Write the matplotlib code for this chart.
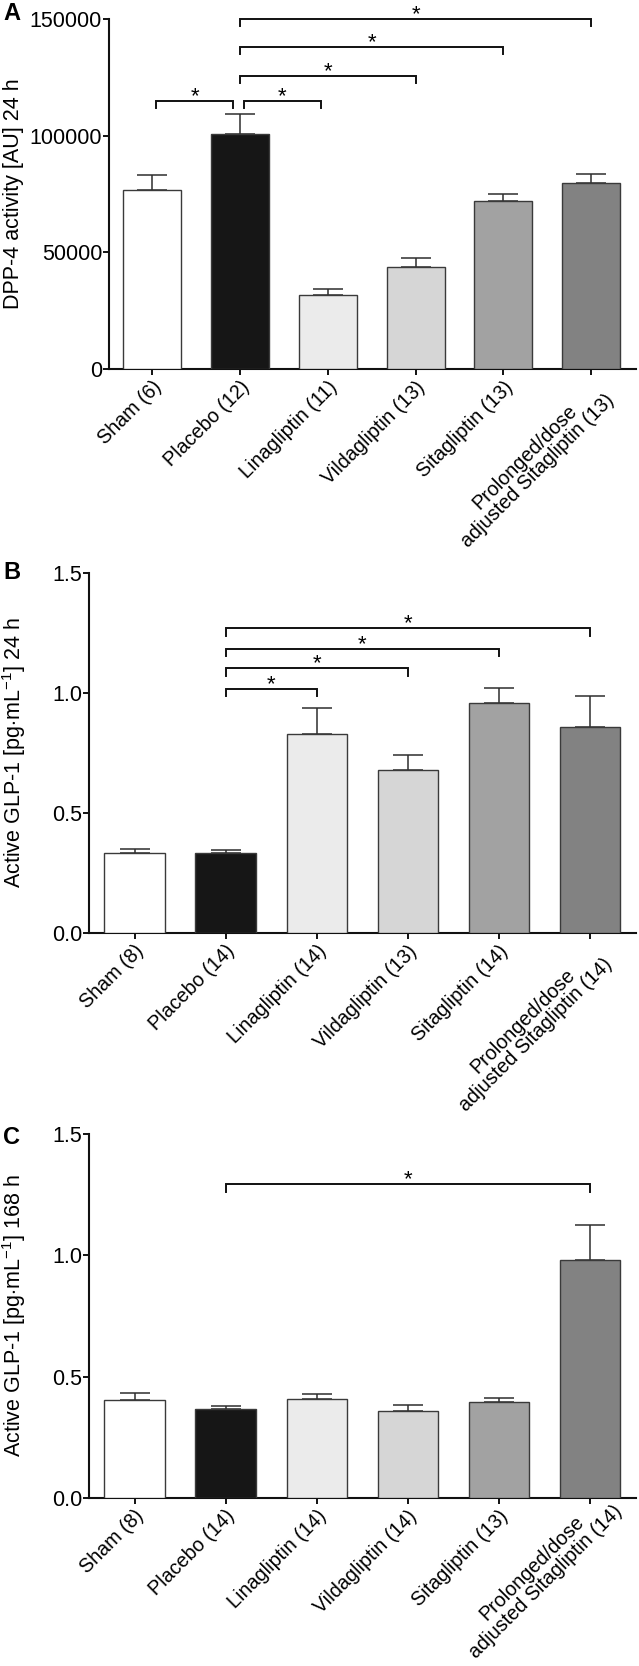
import matplotlib
matplotlib.use("Agg")
import matplotlib.pyplot as plt
import matplotlib.transforms as mtransforms
import numpy as np

plt.rcParams['font.family'] = ['Liberation Sans', 'DejaVu Sans']
plt.rcParams['mathtext.fontset'] = 'custom'
plt.rcParams['mathtext.rm'] = 'Liberation Sans'
plt.rcParams['mathtext.it'] = 'Liberation Sans:italic'
plt.rcParams['mathtext.bf'] = 'Liberation Sans:bold'

# ---------------- data ----------------
labels_A = ['Sham (6)', 'Placebo (12)', 'Linagliptin (11)', 'Vildagliptin (13)',
            'Sitagliptin (13)', 'Prolonged/dose\nadjusted Sitagliptin (13)']
means_A = [76600, 100800, 31600, 43800, 72000, 79600]
sem_A = [6400, 8300, 2600, 3900, 2900, 4100]
pairs_A = [(0, 1), (1, 2), (1, 3), (1, 4), (1, 5)]
heights_A = [114900, 114900, 125700, 138000, 150100]
yticks_A = [0, 50000, 100000, 150000]

labels_B = ['Sham (8)', 'Placebo (14)', 'Linagliptin (14)', 'Vildagliptin (13)',
            'Sitagliptin (14)', 'Prolonged/dose\nadjusted Sitagliptin (14)']
means_B = [0.332, 0.335, 0.828, 0.681, 0.958, 0.858]
sem_B = [0.016, 0.009, 0.110, 0.062, 0.064, 0.129]
pairs_B = [(1, 2), (1, 3), (1, 4), (1, 5)]
heights_B = [1.017, 1.104, 1.185, 1.270]
yticks_B = [0.0, 0.5, 1.0, 1.5]

labels_C = ['Sham (8)', 'Placebo (14)', 'Linagliptin (14)', 'Vildagliptin (14)',
            'Sitagliptin (13)', 'Prolonged/dose\nadjusted Sitagliptin (14)']
means_C = [0.402, 0.365, 0.409, 0.360, 0.397, 0.979]
sem_C = [0.030, 0.016, 0.021, 0.023, 0.015, 0.148]
pairs_C = [(1, 5)]
heights_C = [1.294]
yticks_C = [0.0, 0.5, 1.0, 1.5]

ylabel_A = 'DPP-4 activity [AU] 24 h'
ylabel_B = r'Active GLP-1 [pg$\cdot$mL$^{-1}$] 24 h'
ylabel_C = r'Active GLP-1 [pg$\cdot$mL$^{-1}$] 168 h'

bar_colors = ['#ffffff', '#161616', '#ebebeb', '#d6d6d6', '#a2a2a2', '#828282']

# ---------------- figure ----------------
W, H = 639, 1666
fig = plt.figure(figsize=(W / 100, H / 100), dpi=100)


def px_axes(left, right, top, bottom):
    return fig.add_axes([left / W, 1 - bottom / H, (right - left) / W, (bottom - top) / H])


all_ticklabels = []


def draw_panel(ax, labels, means, sems, pairs, heights, yticks, ylabel, ymax,
               fmt, letter, letter_y, inset, xlim):
    x = np.arange(len(means))
    ax.bar(x, means, width=0.66, color=bar_colors, edgecolor='#3a3a3a',
           linewidth=1.0, zorder=3)
    ax.errorbar(x, means, yerr=[np.zeros(len(sems)), sems], fmt='none',
                ecolor='#2e2e2e', elinewidth=1.1, capsize=10.5, capthick=1.1,
                zorder=2)
    ax.set_xlim(*xlim)
    ax.set_ylim(0, ymax)
    ax.set_yticks(yticks)
    ax.set_yticklabels([fmt.format(v) for v in yticks])
    ax.set_xticks(x)
    ticklabels = ax.set_xticklabels(labels, rotation=45, ha='right', va='top',
                                    rotation_mode='anchor', multialignment='center',
                                    linespacing=1.0, fontsize=14.2)
    for t in ticklabels:
        if '\n' in t.get_text():
            t.set_transform(t.get_transform() +
                            mtransforms.ScaledTranslation(0.16, 0.21, fig.dpi_scale_trans))
    all_ticklabels.extend(ticklabels)
    for sp in ['top', 'right']:
        ax.spines[sp].set_visible(False)
    for sp in ['left', 'bottom']:
        ax.spines[sp].set_linewidth(1.5)
        ax.spines[sp].set_color('#111111')
    ax.tick_params(axis='both', direction='out', length=4, width=1.4,
                   color='#111111', pad=2)
    ax.tick_params(axis='y', pad=1, labelsize=15.5)
    ax.set_ylabel(ylabel, fontsize=15.5, va='center')
    ax.yaxis.set_label_coords(
        14 / W, 0.5,
        transform=mtransforms.blended_transform_factory(fig.transFigure, ax.transAxes))
    drop = 0.021 * ymax
    for (a, b), h in zip(pairs, heights):
        xa, xb = a, b
        if b - a == 1:
            xa = a + inset
            xb = b - inset * 1.6
        ax.plot([xa, xa, xb, xb], [h - drop, h, h, h - drop], color='#111111',
                lw=1.4, clip_on=False, zorder=4, solid_joinstyle='miter')
        ax.annotate('*', xy=((xa + xb) / 2, h), xytext=(0, -1),
                    textcoords='offset points', ha='center', va='baseline',
                    fontsize=16, annotation_clip=False)
    fig.text(3 / W, 1 - letter_y / H, letter, fontsize=17, fontweight='bold',
             ha='left', va='center')


axA = px_axes(109, 636, 19, 369)
draw_panel(axA, labels_A, means_A, sem_A, pairs_A, heights_A, yticks_A, ylabel_A,
           150000, '{:.0f}', 'A', 13, 0.05, (-0.49, 5.51))

axB = px_axes(89, 636, 573, 933)
draw_panel(axB, labels_B, means_B, sem_B, pairs_B, heights_B, yticks_B, ylabel_B,
           1.5, '{:.1f}', 'B', 572, 0.0, (-0.5, 5.51))

axC = px_axes(89, 636, 1134, 1498)
draw_panel(axC, labels_C, means_C, sem_C, pairs_C, heights_C, yticks_C, ylabel_C,
           1.5, '{:.1f}', 'C', 1138, 0.0, (-0.5, 5.51))

# keep every rotated label inside the canvas
fig.canvas.draw()
renderer = fig.canvas.get_renderer()
for t in all_ticklabels:
    bb = t.get_window_extent(renderer)
    need_up = max(0.0, 4.0 - bb.y0)
    if need_up > 0:
        room_right = max(0.0, W - 2.0 - bb.x1)
        dx = min(need_up * 0.5, room_right)
        t.set_transform(t.get_transform() +
                        mtransforms.ScaledTranslation(dx / 100, need_up / 100,
                                                      fig.dpi_scale_trans))

fig.savefig('out.png', dpi=100, facecolor='white')
